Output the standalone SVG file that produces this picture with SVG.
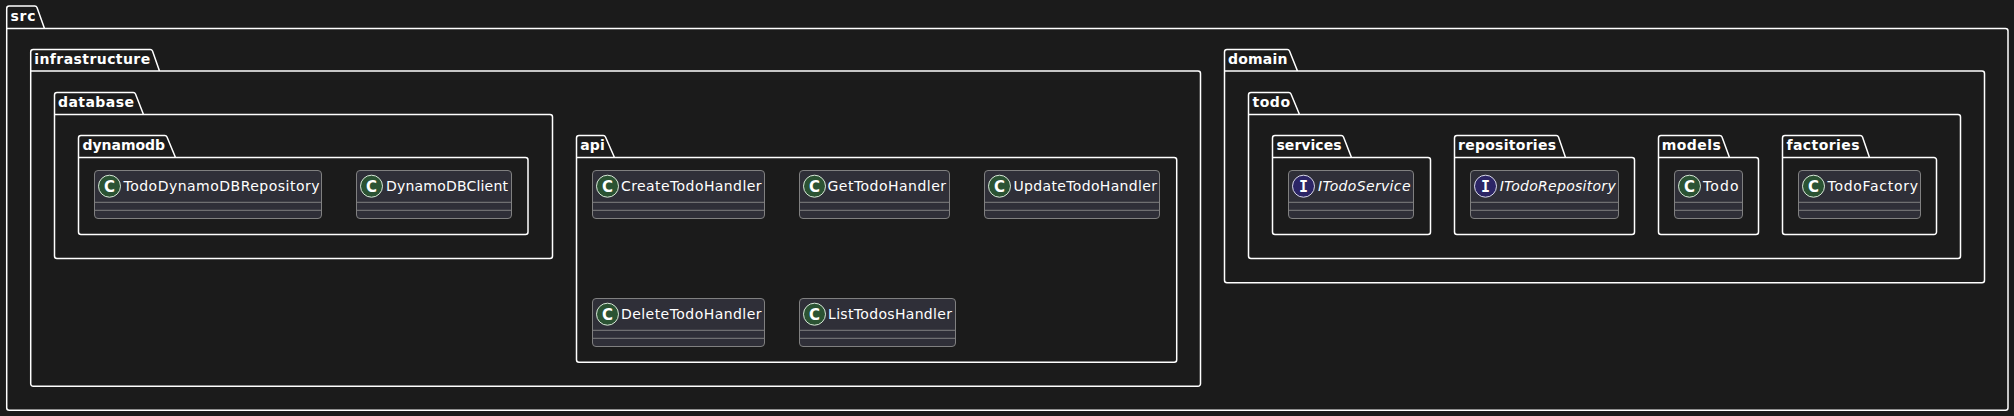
<svg xmlns="http://www.w3.org/2000/svg" width="2014" height="416" viewBox="0 0 2014 416">
<style>
.pkg{fill:none;stroke:#fff;stroke-width:1.5}
.pl{font:bold 14px "DejaVu Sans",sans-serif;fill:#fff}
.box{fill:#2f2f38;stroke:#808080;stroke-width:1}
.sep{stroke:#808080;stroke-width:1}
.cc{fill:#2b5333;stroke:#d8e8d8;stroke-width:1}
.ci{fill:#2c2566;stroke:#d8d8e8;stroke-width:1}
.lt{font:bold 15px "DejaVu Sans",sans-serif;fill:#fff;text-anchor:middle}
.lm{font:bold 15px "DejaVu Sans Mono",monospace;fill:#fff;text-anchor:middle}
.n{font:14px "DejaVu Sans",sans-serif;fill:#fff}
.i{font-style:italic}
</style>
<rect width="2014" height="416" fill="#1b1b1b"/>
<g id="pkg-src">
<path class="pkg" d="M6.7,28.5V8.5A2.5,2.5 0 0 1 9.2,6H34.5A2.5,2.5 0 0 1 37,7.5L44.5,28.5H2005.5A2.5,2.5 0 0 1 2008,31V407.8A2.5,2.5 0 0 1 2005.5,410.3H9.2A2.5,2.5 0 0 1 6.7,407.8V28.5H44.5"/>
<text class="pl" x="10.5" y="21" textLength="25">src</text>
<g id="pkg-infrastructure">
<path class="pkg" d="M30.7,71V52A2.5,2.5 0 0 1 33.2,49.5H150A2.5,2.5 0 0 1 152.5,51L159.5,71H1198A2.5,2.5 0 0 1 1200.5,73.5V383.8A2.5,2.5 0 0 1 1198,386.3H33.2A2.5,2.5 0 0 1 30.7,383.8V71H159.5"/>
<text class="pl" x="34.2" y="64" textLength="116">infrastructure</text>
<g id="pkg-database">
<path class="pkg" d="M54.5,114.5V95A2.5,2.5 0 0 1 57,92.5H133A2.5,2.5 0 0 1 135.5,94L143.5,114.5H550A2.5,2.5 0 0 1 552.5,117V256A2.5,2.5 0 0 1 550,258.5H57A2.5,2.5 0 0 1 54.5,256V114.5H143.5"/>
<text class="pl" x="58" y="107" textLength="76">database</text>
<g id="pkg-dynamodb">
<path class="pkg" d="M78.5,157.5V138A2.5,2.5 0 0 1 81,135.5H164.5A2.5,2.5 0 0 1 167,137L175.5,157.5H525.5A2.5,2.5 0 0 1 528,160V232A2.5,2.5 0 0 1 525.5,234.5H81A2.5,2.5 0 0 1 78.5,232V157.5H175.5"/>
<text class="pl" x="82.5" y="150" textLength="82.5">dynamodb</text>
<g id="cls-TodoDynamoDBRepository">
<rect class="box" x="94.5" y="170.5" width="227" height="48" rx="3.5"/>
<path class="sep" d="M94.5,202.3H321.5M94.5,210.3H321.5"/>
<circle class="cc" cx="109.5" cy="186.2" r="11"/><text class="lt" x="109.5" y="191.6">C</text>
<text class="n" x="123.5" y="191" textLength="196">TodoDynamoDBRepository</text>
</g>
<g id="cls-DynamoDBClient">
<rect class="box" x="356.5" y="170.5" width="155" height="48" rx="3.5"/>
<path class="sep" d="M356.5,202.3H511.5M356.5,210.3H511.5"/>
<circle class="cc" cx="371.5" cy="186.2" r="11"/><text class="lt" x="371.5" y="191.6">C</text>
<text class="n" x="386" y="191" textLength="122">DynamoDBClient</text>
</g>
</g>
</g>
<g id="pkg-api">
<path class="pkg" d="M576.5,157.5V138A2.5,2.5 0 0 1 579,135.5H603A2.5,2.5 0 0 1 605.5,137L614.5,157.5H1174.2A2.5,2.5 0 0 1 1176.7,160V359.8A2.5,2.5 0 0 1 1174.2,362.3H579A2.5,2.5 0 0 1 576.5,359.8V157.5H614.5"/>
<text class="pl" x="580.2" y="150" textLength="24.5">api</text>
<g id="cls-CreateTodoHandler">
<rect class="box" x="592.5" y="170.5" width="172" height="48" rx="3.5"/>
<path class="sep" d="M592.5,202.3H764.5M592.5,210.3H764.5"/>
<circle class="cc" cx="607.5" cy="186.2" r="11"/><text class="lt" x="607.5" y="191.6">C</text>
<text class="n" x="621" y="191" textLength="140.5">CreateTodoHandler</text>
</g>
<g id="cls-GetTodoHandler">
<rect class="box" x="799.5" y="170.5" width="150" height="48" rx="3.5"/>
<path class="sep" d="M799.5,202.3H949.5M799.5,210.3H949.5"/>
<circle class="cc" cx="814.5" cy="186.2" r="11"/><text class="lt" x="814.5" y="191.6">C</text>
<text class="n" x="827.5" y="191" textLength="118.5">GetTodoHandler</text>
</g>
<g id="cls-UpdateTodoHandler">
<rect class="box" x="984.5" y="170.5" width="175" height="48" rx="3.5"/>
<path class="sep" d="M984.5,202.3H1159.5M984.5,210.3H1159.5"/>
<circle class="cc" cx="999.5" cy="186.2" r="11"/><text class="lt" x="999.5" y="191.6">C</text>
<text class="n" x="1013.5" y="191" textLength="143.5">UpdateTodoHandler</text>
</g>
<g id="cls-DeleteTodoHandler">
<rect class="box" x="592.5" y="298.5" width="172" height="48" rx="3.5"/>
<path class="sep" d="M592.5,330.3H764.5M592.5,338.3H764.5"/>
<circle class="cc" cx="607.5" cy="314.2" r="11"/><text class="lt" x="607.5" y="319.6">C</text>
<text class="n" x="621" y="319" textLength="140.5">DeleteTodoHandler</text>
</g>
<g id="cls-ListTodosHandler">
<rect class="box" x="799.5" y="298.5" width="156" height="48" rx="3.5"/>
<path class="sep" d="M799.5,330.3H955.5M799.5,338.3H955.5"/>
<circle class="cc" cx="814.5" cy="314.2" r="11"/><text class="lt" x="814.5" y="319.6">C</text>
<text class="n" x="828" y="319" textLength="124">ListTodosHandler</text>
</g>
</g>
</g>
<g id="pkg-domain">
<path class="pkg" d="M1224.5,71V52A2.5,2.5 0 0 1 1227,49.5H1287A2.5,2.5 0 0 1 1289.5,51L1297.5,71H1982A2.5,2.5 0 0 1 1984.5,73.5V280.2A2.5,2.5 0 0 1 1982,282.7H1227A2.5,2.5 0 0 1 1224.5,280.2V71H1297.5"/>
<text class="pl" x="1228" y="64" textLength="59.5">domain</text>
<g id="pkg-todo">
<path class="pkg" d="M1248.5,114.5V95A2.5,2.5 0 0 1 1251,92.5H1288.5A2.5,2.5 0 0 1 1291,94L1299.5,114.5H1958A2.5,2.5 0 0 1 1960.5,117V256A2.5,2.5 0 0 1 1958,258.5H1251A2.5,2.5 0 0 1 1248.5,256V114.5H1299.5"/>
<text class="pl" x="1252.5" y="107" textLength="37.5">todo</text>
<g id="pkg-services">
<path class="pkg" d="M1272.5,157.5V138A2.5,2.5 0 0 1 1275,135.5H1341A2.5,2.5 0 0 1 1343.5,137L1351.5,157.5H1428A2.5,2.5 0 0 1 1430.5,160V232A2.5,2.5 0 0 1 1428,234.5H1275A2.5,2.5 0 0 1 1272.5,232V157.5H1351.5"/>
<text class="pl" x="1276.5" y="150" textLength="65">services</text>
<g id="cls-ITodoService">
<rect class="box" x="1288.5" y="170.5" width="125" height="48" rx="3.5"/>
<path class="sep" d="M1288.5,202.3H1413.5M1288.5,210.3H1413.5"/>
<circle class="ci" cx="1303.5" cy="186.2" r="11"/><text class="lm" x="1303.5" y="191.6">I</text>
<text class="n i" x="1318" y="191" textLength="92.5">ITodoService</text>
</g>
</g>
<g id="pkg-repositories">
<path class="pkg" d="M1454.5,157.5V138A2.5,2.5 0 0 1 1457,135.5H1556A2.5,2.5 0 0 1 1558.5,137L1565.5,157.5H1632A2.5,2.5 0 0 1 1634.5,160V232A2.5,2.5 0 0 1 1632,234.5H1457A2.5,2.5 0 0 1 1454.5,232V157.5H1565.5"/>
<text class="pl" x="1458" y="150" textLength="98">repositories</text>
<g id="cls-ITodoRepository">
<rect class="box" x="1470.5" y="170.5" width="148" height="48" rx="3.5"/>
<path class="sep" d="M1470.5,202.3H1618.5M1470.5,210.3H1618.5"/>
<circle class="ci" cx="1485.5" cy="186.2" r="11"/><text class="lm" x="1485.5" y="191.6">I</text>
<text class="n i" x="1499.7" y="191" textLength="116">ITodoRepository</text>
</g>
</g>
<g id="pkg-models">
<path class="pkg" d="M1658.5,157.5V138A2.5,2.5 0 0 1 1661,135.5H1719.5A2.5,2.5 0 0 1 1722,137L1729.5,157.5H1756A2.5,2.5 0 0 1 1758.5,160V232A2.5,2.5 0 0 1 1756,234.5H1661A2.5,2.5 0 0 1 1658.5,232V157.5H1729.5"/>
<text class="pl" x="1661.8" y="150" textLength="59">models</text>
<g id="cls-Todo">
<rect class="box" x="1674.5" y="170.5" width="68" height="48" rx="3.5"/>
<path class="sep" d="M1674.5,202.3H1742.5M1674.5,210.3H1742.5"/>
<circle class="cc" cx="1689.5" cy="186.2" r="11"/><text class="lt" x="1689.5" y="191.6">C</text>
<text class="n" x="1703" y="191" textLength="35.5">Todo</text>
</g>
</g>
<g id="pkg-factories">
<path class="pkg" d="M1782.5,157.5V138A2.5,2.5 0 0 1 1785,135.5H1860A2.5,2.5 0 0 1 1862.5,137L1869.5,157.5H1934A2.5,2.5 0 0 1 1936.5,160V232A2.5,2.5 0 0 1 1934,234.5H1785A2.5,2.5 0 0 1 1782.5,232V157.5H1869.5"/>
<text class="pl" x="1786.5" y="150" textLength="73">factories</text>
<g id="cls-TodoFactory">
<rect class="box" x="1798.5" y="170.5" width="122" height="48" rx="3.5"/>
<path class="sep" d="M1798.5,202.3H1920.5M1798.5,210.3H1920.5"/>
<circle class="cc" cx="1813.5" cy="186.2" r="11"/><text class="lt" x="1813.5" y="191.6">C</text>
<text class="n" x="1827.5" y="191" textLength="90.5">TodoFactory</text>
</g>
</g>
</g>
</g>
</g>
</svg>
